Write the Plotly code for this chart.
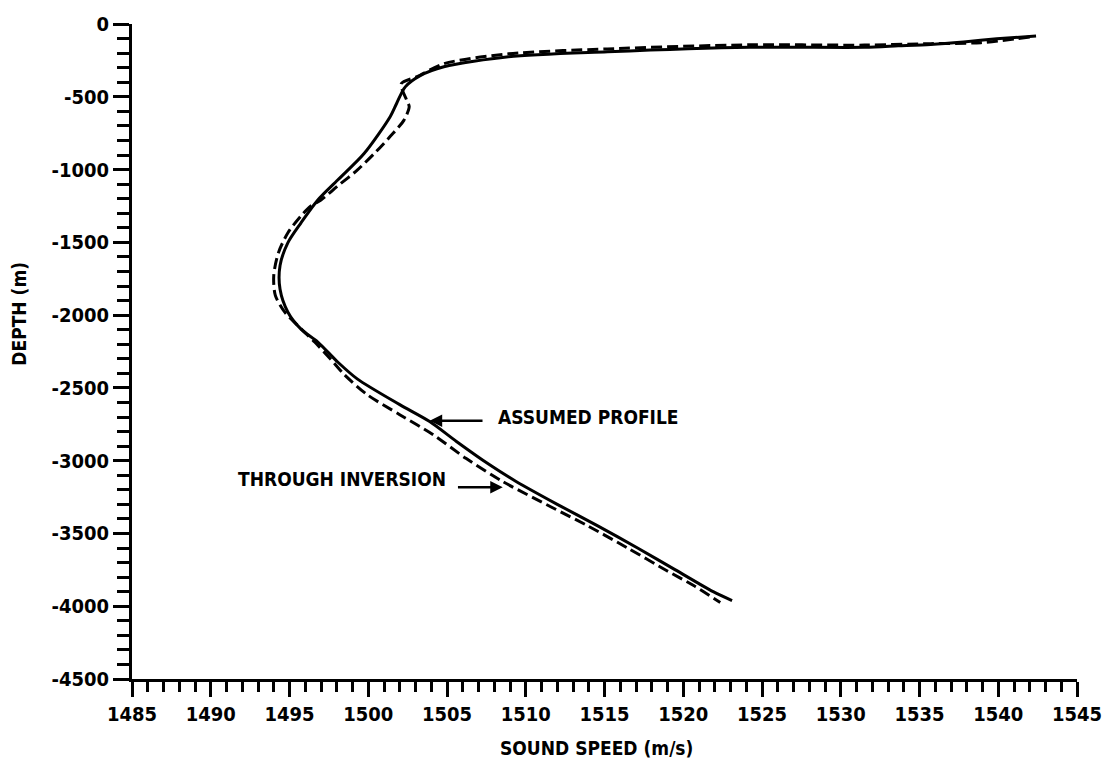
import plotly.graph_objects as go

# ---- data ----
assumed_speed = [1542.4, 1539.9, 1537.8, 1535.7, 1533.65, 1531.5, 1524.2, 1515.2, 1508.9,
                 1504.8, 1503.3, 1502.35, 1501.8, 1501.4, 1499.75, 1498.06, 1496.8, 1495.73,
                 1494.9, 1494.4, 1494.4, 1494.9, 1495.73, 1496.8, 1498.06, 1499.3, 1502.0,
                 1503.9, 1505.6, 1507.66, 1509.36, 1512.0, 1514.6, 1517.1, 1519.5, 1521.9, 1523.1]
assumed_depth = [-82, -102, -123, -140, -150, -160, -160, -191, -225,
                 -294, -355, -432, -546, -635, -888, -1072, -1209, -1366,
                 -1502, -1659, -1823, -1980, -2096, -2185, -2322, -2438, -2615,
                 -2731, -2868, -3025, -3141, -3300, -3450, -3600, -3750, -3900, -3961]

inverted_speed = [1542.0, 1538.9, 1535.7, 1531.5, 1524.2, 1515.2, 1508.9, 1504.8, 1503.1,
                  1502.1, 1502.45, 1502.6, 1502.26, 1501.4, 1500.4, 1499.3, 1498.06, 1497.0,
                  1496.36, 1495.73, 1494.9, 1494.3, 1494.0, 1494.1, 1494.7, 1495.5, 1496.6,
                  1497.6, 1498.5, 1499.94, 1502.0, 1504.1, 1506.2, 1508.5, 1513.94, 1516.45,
                  1518.96, 1520.66, 1522.35]
inverted_depth = [-89, -128, -135, -145, -143, -171, -205, -273, -362,
                  -410, -526, -567, -662, -772, -888, -1004, -1113, -1209,
                  -1250, -1318, -1434, -1571, -1728, -1864, -1980, -2069, -2185,
                  -2301, -2411, -2547, -2684, -2820, -2984, -3141, -3448, -3599,
                  -3756, -3858, -3974]

x_tickvals = [1485, 1490, 1495, 1500, 1505, 1510, 1515, 1520, 1525, 1530, 1535, 1540, 1545]
x_ticktext = ["1485", "1490", "1495", "1500", "1505", "1510", "1515", "1520", "1525",
              "1530", "1535", "1540", "1545"]
y_tickvals = [0, -500, -1000, -1500, -2000, -2500, -3000, -3500, -4000, -4500]
y_ticktext = ["0", "-500", "-1000", "-1500", "-2000", "-2500", "-3000", "-3500", "-4000", "-4500"]

FONT = "DejaVu Sans Condensed, DejaVu Sans, sans-serif"
tfont = dict(family=FONT, size=20, color="black", weight="bold")
afont = dict(family=FONT, size=19, color="black", weight="bold")

fig = go.Figure()
fig.add_trace(go.Scatter(x=assumed_speed, y=assumed_depth, mode="lines",
                         line=dict(color="black", width=3, shape="spline", smoothing=0.8),
                         name="ASSUMED PROFILE", showlegend=False))
fig.add_trace(go.Scatter(x=inverted_speed, y=inverted_depth, mode="lines",
                         line=dict(color="black", width=3, dash="11px,5px", shape="spline", smoothing=0.8),
                         name="THROUGH INVERSION", showlegend=False))

axis_common = dict(showline=True, linecolor="black", linewidth=3, ticks="outside",
                   tickcolor="black", tickwidth=3, showgrid=False, zeroline=False,
                   tickfont=tfont)

fig.update_xaxes(range=[1485, 1545], tickmode="array", tickvals=x_tickvals, ticktext=x_ticktext,
                 ticklen=15, minor=dict(tick0=1485, dtick=1, ticklen=10, tickwidth=3,
                                        tickcolor="black", ticks="outside"),
                 **axis_common)
fig.update_yaxes(range=[-4500, 0], tickmode="array", tickvals=y_tickvals, ticktext=y_ticktext,
                 ticklen=16, minor=dict(tick0=0, dtick=100, ticklen=12, tickwidth=3,
                                        tickcolor="black", ticks="outside"),
                 **axis_common)

annots = [
    dict(x=0.492, y=-0.105, xref="paper", yref="paper", text="SOUND SPEED (m/s)",
         showarrow=False, xanchor="center", yanchor="middle", font=afont),
    dict(x=-0.119, y=0.557, xref="paper", yref="paper", text="DEPTH (m)", textangle=-90,
         showarrow=False, xanchor="center", yanchor="middle", font=afont),
    dict(x=1508.1, y=-2697, xref="x", yref="y", text="ASSUMED PROFILE", showarrow=False,
         xanchor="left", yanchor="middle", font=afont),
    dict(x=1491.6, y=-3127, xref="x", yref="y", text="THROUGH INVERSION", showarrow=False,
         xanchor="left", yanchor="middle", font=afont),
    dict(x=1503.9, y=-2725, ax=1507.35, ay=-2725, xref="x", yref="y", axref="x", ayref="y",
         text="", showarrow=True, arrowhead=2, arrowsize=1, arrowwidth=2.5, arrowcolor="black"),
    dict(x=1508.54, y=-3182, ax=1505.6, ay=-3182, xref="x", yref="y", axref="x", ayref="y",
         text="", showarrow=True, arrowhead=2, arrowsize=1, arrowwidth=2.5, arrowcolor="black"),
]
fig.update_layout(width=1114, height=762, autosize=False,
                  margin=dict(l=132, r=26, t=20, b=83),
                  paper_bgcolor="white", plot_bgcolor="white",
                  annotations=annots, showlegend=False)

fig.write_html("out.html")
